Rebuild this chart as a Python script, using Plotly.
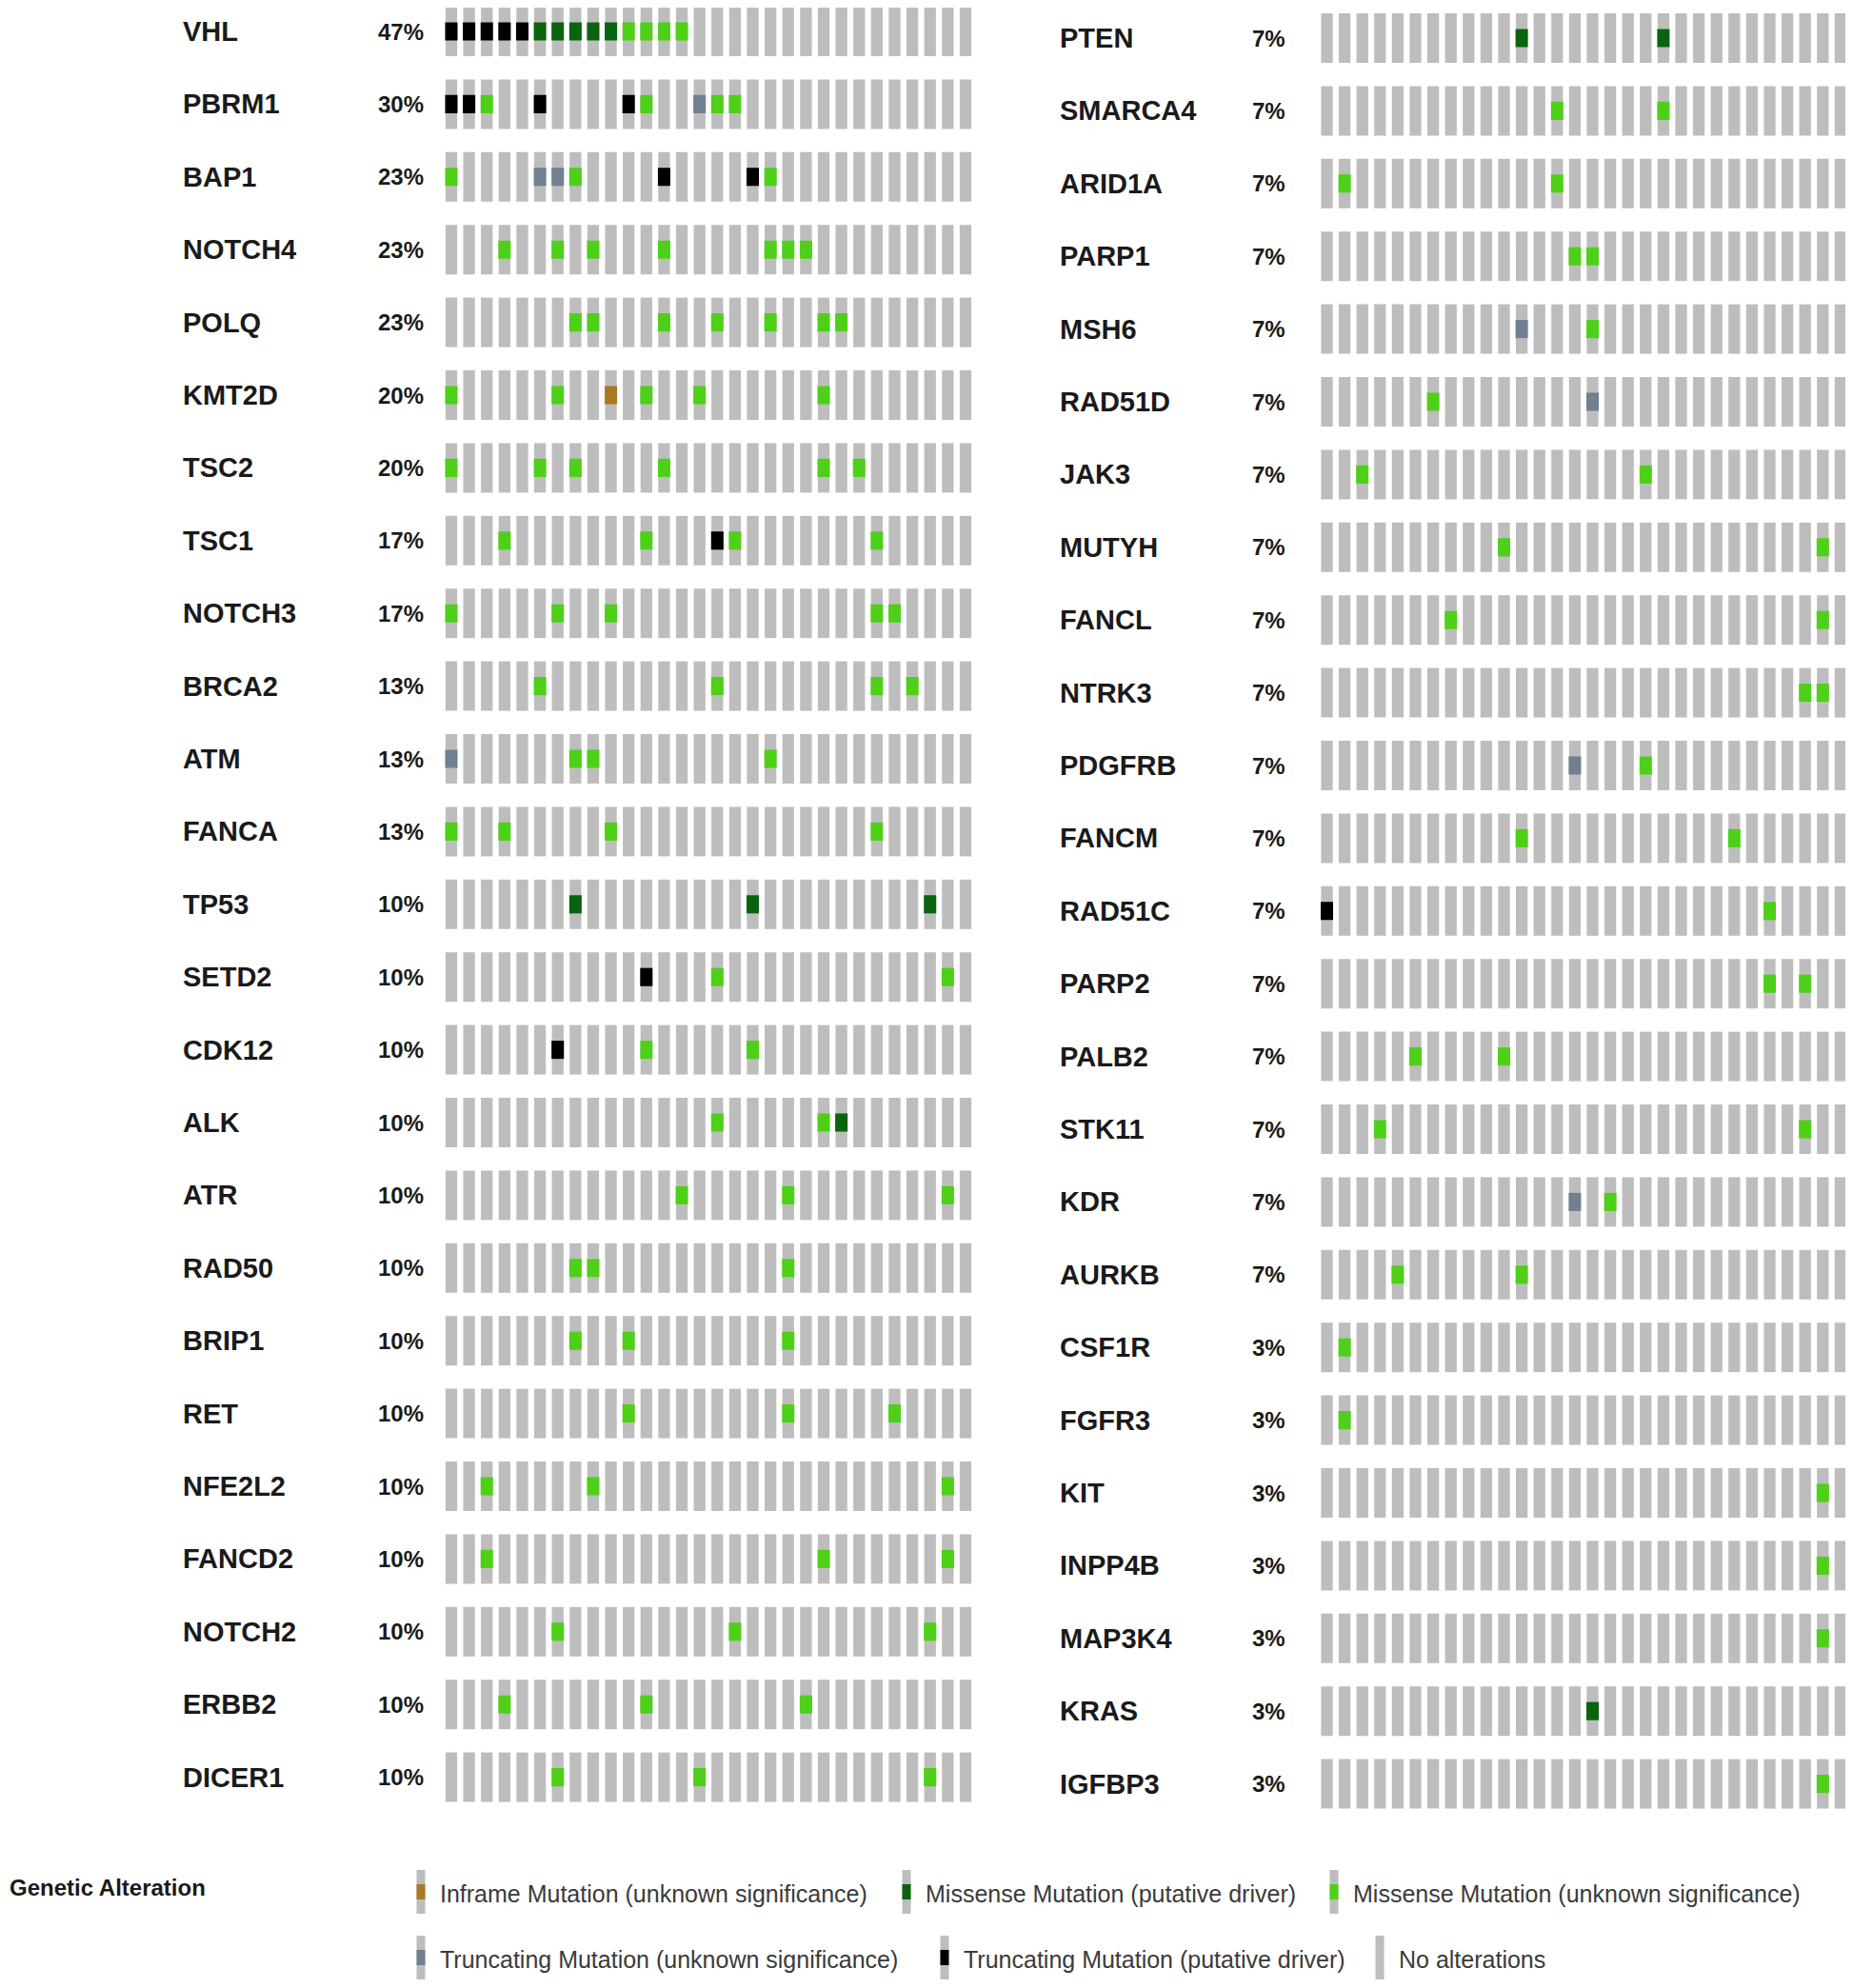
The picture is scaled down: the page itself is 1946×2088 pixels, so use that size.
import plotly.graph_objects as go

# ---------------- DATA ----------------
N_SAMPLES = 30

left_genes = ["VHL", "PBRM1", "BAP1", "NOTCH4", "POLQ", "KMT2D", "TSC2", "TSC1", "NOTCH3",
              "BRCA2", "ATM", "FANCA", "TP53", "SETD2", "CDK12", "ALK", "ATR", "RAD50",
              "BRIP1", "RET", "NFE2L2", "FANCD2", "NOTCH2", "ERBB2", "DICER1"]
left_pct = ["47%", "30%", "23%", "23%", "23%", "20%", "20%", "17%", "17%", "13%", "13%", "13%",
            "10%", "10%", "10%", "10%", "10%", "10%", "10%", "10%", "10%", "10%", "10%", "10%", "10%"]

right_genes = ["PTEN", "SMARCA4", "ARID1A", "PARP1", "MSH6", "RAD51D", "JAK3", "MUTYH", "FANCL",
               "NTRK3", "PDGFRB", "FANCM", "RAD51C", "PARP2", "PALB2", "STK11", "KDR", "AURKB",
               "CSF1R", "FGFR3", "KIT", "INPP4B", "MAP3K4", "KRAS", "IGFBP3"]
right_pct = ["7%"] * 18 + ["3%"] * 7

# alteration codes: TD truncating driver, TU truncating unknown, MD missense driver,
# MU missense unknown, IU inframe unknown
left_alts = {
    "VHL": [(0, "TD"), (1, "TD"), (2, "TD"), (3, "TD"), (4, "TD"), (5, "MD"), (6, "MD"), (7, "MD"),
            (8, "MD"), (9, "MD"), (10, "MU"), (11, "MU"), (12, "MU"), (13, "MU")],
    "PBRM1": [(0, "TD"), (1, "TD"), (2, "MU"), (5, "TD"), (10, "TD"), (11, "MU"), (14, "TU"),
              (15, "MU"), (16, "MU")],
    "BAP1": [(0, "MU"), (5, "TU"), (6, "TU"), (7, "MU"), (12, "TD"), (17, "TD"), (18, "MU")],
    "NOTCH4": [(3, "MU"), (6, "MU"), (8, "MU"), (12, "MU"), (18, "MU"), (19, "MU"), (20, "MU")],
    "POLQ": [(7, "MU"), (8, "MU"), (12, "MU"), (15, "MU"), (18, "MU"), (21, "MU"), (22, "MU")],
    "KMT2D": [(0, "MU"), (6, "MU"), (9, "IU"), (11, "MU"), (14, "MU"), (21, "MU")],
    "TSC2": [(0, "MU"), (5, "MU"), (7, "MU"), (12, "MU"), (21, "MU"), (23, "MU")],
    "TSC1": [(3, "MU"), (11, "MU"), (15, "TD"), (16, "MU"), (24, "MU")],
    "NOTCH3": [(0, "MU"), (6, "MU"), (9, "MU"), (24, "MU"), (25, "MU")],
    "BRCA2": [(5, "MU"), (15, "MU"), (24, "MU"), (26, "MU")],
    "ATM": [(0, "TU"), (7, "MU"), (8, "MU"), (18, "MU")],
    "FANCA": [(0, "MU"), (3, "MU"), (9, "MU"), (24, "MU")],
    "TP53": [(7, "MD"), (17, "MD"), (27, "MD")],
    "SETD2": [(11, "TD"), (15, "MU"), (28, "MU")],
    "CDK12": [(6, "TD"), (11, "MU"), (17, "MU")],
    "ALK": [(15, "MU"), (21, "MU"), (22, "MD")],
    "ATR": [(13, "MU"), (19, "MU"), (28, "MU")],
    "RAD50": [(7, "MU"), (8, "MU"), (19, "MU")],
    "BRIP1": [(7, "MU"), (10, "MU"), (19, "MU")],
    "RET": [(10, "MU"), (19, "MU"), (25, "MU")],
    "NFE2L2": [(2, "MU"), (8, "MU"), (28, "MU")],
    "FANCD2": [(2, "MU"), (21, "MU"), (28, "MU")],
    "NOTCH2": [(6, "MU"), (16, "MU"), (27, "MU")],
    "ERBB2": [(3, "MU"), (11, "MU"), (20, "MU")],
    "DICER1": [(6, "MU"), (14, "MU"), (27, "MU")],
}

right_alts = {
    "PTEN": [(11, "MD"), (19, "MD")],
    "SMARCA4": [(13, "MU"), (19, "MU")],
    "ARID1A": [(1, "MU"), (13, "MU")],
    "PARP1": [(14, "MU"), (15, "MU")],
    "MSH6": [(11, "TU"), (15, "MU")],
    "RAD51D": [(6, "MU"), (15, "TU")],
    "JAK3": [(2, "MU"), (18, "MU")],
    "MUTYH": [(10, "MU"), (28, "MU")],
    "FANCL": [(7, "MU"), (28, "MU")],
    "NTRK3": [(27, "MU"), (28, "MU")],
    "PDGFRB": [(14, "TU"), (18, "MU")],
    "FANCM": [(11, "MU"), (23, "MU")],
    "RAD51C": [(0, "TD"), (25, "MU")],
    "PARP2": [(25, "MU"), (27, "MU")],
    "PALB2": [(5, "MU"), (10, "MU")],
    "STK11": [(3, "MU"), (27, "MU")],
    "KDR": [(14, "TU"), (16, "MU")],
    "AURKB": [(4, "MU"), (11, "MU")],
    "CSF1R": [(1, "MU")],
    "FGFR3": [(1, "MU")],
    "KIT": [(28, "MU")],
    "INPP4B": [(28, "MU")],
    "MAP3K4": [(28, "MU")],
    "KRAS": [(15, "MD")],
    "IGFBP3": [(28, "MU")],
}

legend_codes = ["IU", "MD", "MU", "TU", "TD", "NA"]
legend_labels = ["Inframe Mutation (unknown significance)", "Missense Mutation (putative driver)",
                 "Missense Mutation (unknown significance)", "Truncating Mutation (unknown significance)",
                 "Truncating Mutation (putative driver)", "No alterations"]

# ---------------- STYLE / LAYOUT ----------------
REF_W, REF_H = 1946, 2088
OFF = 8  # page body margin
W, H = REF_W - OFF, REF_H - OFF


def px_x(X):
    return (X - OFF) / W


def px_y(Y):
    return 1 - (Y - OFF) / H


GRAY = "#BDBDBD"
COLORS = {"TD": "#000000", "TU": "#708090", "MD": "#0a640f", "MU": "#4fd018", "IU": "#a87a22"}
FONT = "Liberation Sans, Arial, sans-serif"

BAR_W, BAR_H = 0.66, 0.68
MUT_W, MUT_H = 0.70, 0.25
LEG_TOP = 1925  # reference pixel where legend area starts

panels = [
    dict(genes=left_genes, pct=left_pct, alts=left_alts, x0=474.0, dx=18.62, y0=33.0, dy=76.4,
         gene_x=190, pct_x=447, ax=""),
    dict(genes=right_genes, pct=right_pct, alts=right_alts, x0=1393.5, dx=18.6, y0=40.0, dy=76.4,
         gene_x=1111, pct_x=1352, ax="2"),
]

fig = go.Figure()
annotations = []
layout_axes = {}

for p in panels:
    ax = p["ax"]
    xa, ya = "x" + ax, "y" + ax
    n_rows = len(p["genes"])
    xs, bases = [], []
    for r in range(n_rows):
        for c in range(N_SAMPLES):
            xs.append(c)
            bases.append(r - BAR_H / 2)
    fig.add_trace(go.Bar(x=xs, y=[BAR_H] * len(xs), base=bases, width=BAR_W,
                         marker=dict(color=GRAY, line=dict(width=0)),
                         xaxis=xa, yaxis=ya, showlegend=False, hoverinfo="skip"))
    for code, col in COLORS.items():
        mx, mb = [], []
        for r, g in enumerate(p["genes"]):
            for (s, t) in p["alts"].get(g, []):
                if t == code:
                    mx.append(s)
                    mb.append(r - MUT_H / 2)
        if mx:
            fig.add_trace(go.Bar(x=mx, y=[MUT_H] * len(mx), base=mb, width=MUT_W,
                                 marker=dict(color=col, line=dict(width=0)),
                                 xaxis=xa, yaxis=ya, showlegend=False, hoverinfo="skip"))
    x_left = p["x0"] - 0.5 * p["dx"]
    x_right = p["x0"] + (N_SAMPLES - 0.5) * p["dx"]
    dom_x = [px_x(x_left), min(1.0, px_x(x_right))]
    y_top = (OFF - p["y0"]) / p["dy"]
    y_bot = (LEG_TOP - p["y0"]) / p["dy"]
    key = ax
    layout_axes["xaxis" + key] = dict(domain=dom_x, range=[-0.5, N_SAMPLES - 0.5], visible=False,
                                      anchor="y" + key, fixedrange=True)
    layout_axes["yaxis" + key] = dict(domain=[px_y(LEG_TOP), 1], range=[y_bot, y_top], visible=False,
                                      anchor="x" + key, fixedrange=True)
    for r, (g, pc) in enumerate(zip(p["genes"], p["pct"])):
        annotations.append(dict(text="<b>" + g + "</b>", x=px_x(p["gene_x"]), xref="paper", y=r, yref=ya,
                                xanchor="left", yanchor="middle", showarrow=False,
                                font=dict(family=FONT, size=29, color="#1a1a1a")))
        annotations.append(dict(text="<b>" + pc + "</b>", x=px_x(p["pct_x"]), xref="paper", y=r, yref=ya,
                                xanchor="right", yanchor="middle", showarrow=False,
                                font=dict(family=FONT, size=24, color="#1a1a1a")))

# ---------------- LEGEND (axis in reference-pixel units) ----------------
leg_sw_x = [442, 952, 1401, 442, 992, 1449]
leg_y = [1987, 1987, 1987, 2056, 2056, 2056]
SW_W, SW_H, SW_MID = 9, 46, 16
fig.add_trace(go.Bar(x=leg_sw_x, y=[SW_H] * 6, base=[yy - SW_H / 2 for yy in leg_y], width=SW_W,
                     marker=dict(color=GRAY, line=dict(width=0)), xaxis="x3", yaxis="y3",
                     showlegend=False, hoverinfo="skip"))
mid_x, mid_b, mid_c = [], [], []
for code, sx, yy in zip(legend_codes, leg_sw_x, leg_y):
    if code in COLORS:
        mid_x.append(sx)
        mid_b.append(yy - SW_MID / 2)
        mid_c.append(COLORS[code])
fig.add_trace(go.Bar(x=mid_x, y=[SW_MID] * len(mid_x), base=mid_b, width=SW_W,
                     marker=dict(color=mid_c, line=dict(width=0)), xaxis="x3", yaxis="y3",
                     showlegend=False, hoverinfo="skip"))
layout_axes["xaxis3"] = dict(domain=[0, 1], range=[OFF, REF_W], visible=False, anchor="y3", fixedrange=True)
layout_axes["yaxis3"] = dict(domain=[0, px_y(LEG_TOP)], range=[REF_H, LEG_TOP], visible=False,
                             anchor="x3", fixedrange=True)
for lab, sx, yy in zip(legend_labels, leg_sw_x, leg_y):
    annotations.append(dict(text=lab, x=sx + 18, xref="x3", y=yy + 2, yref="y3", xanchor="left",
                            yanchor="middle", showarrow=False,
                            font=dict(family=FONT, size=25, color="#3a3a3a")))
annotations.append(dict(text="<b>Genetic Alteration</b>", x=0, xref="paper", y=1982, yref="y3",
                        xanchor="left", yanchor="middle", showarrow=False,
                        font=dict(family=FONT, size=24, color="#1a1a1a")))

fig.update_layout(width=W, height=H, margin=dict(l=0, r=0, t=0, b=0),
                  paper_bgcolor="white", plot_bgcolor="white", barmode="overlay",
                  annotations=annotations, **layout_axes)

fig.write_html("out.html")
